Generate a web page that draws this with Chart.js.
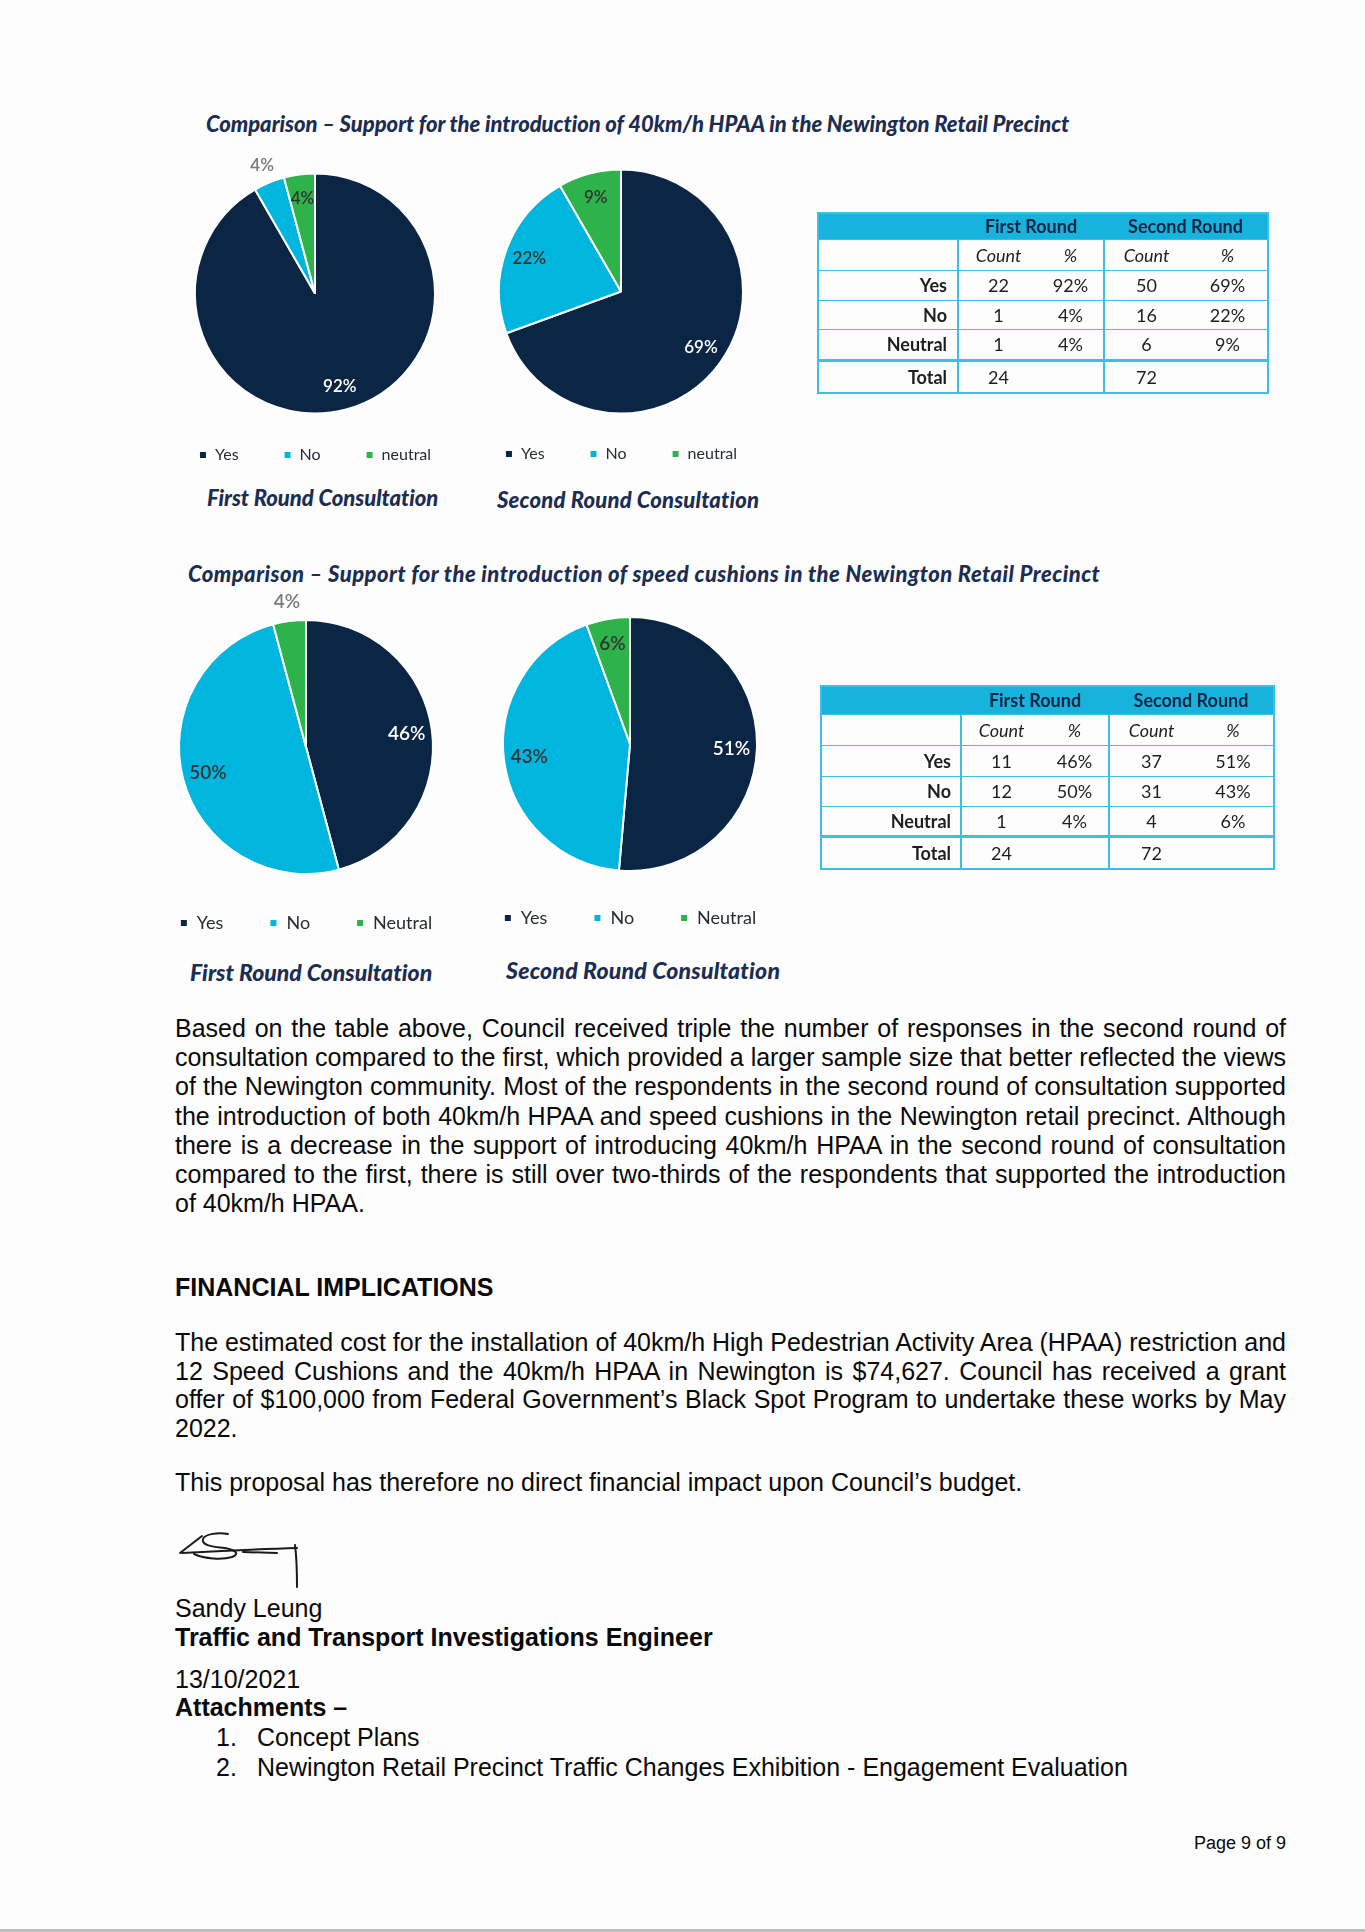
<!DOCTYPE html>
<html>
<head>
<meta charset="utf-8">
<script src="https://cdn.jsdelivr.net/npm/chart.js@4.4.0/dist/chart.umd.min.js"></script>
<style>
html, body { margin: 0; padding: 0; background: #fdfdfd; }
#page { position: relative; width: 1365px; height: 1932px; overflow: hidden; }
.t { position: absolute; white-space: nowrap; display: inline-block; }
.ttl { font-family: Lato, sans-serif; font-weight: 900; font-style: italic; color: #1c2d52; line-height: 26px; }
.body { font-family: 'Liberation Sans', Arial, sans-serif; font-size: 25px; color: #0a0a0a; line-height: 30px; }
.bold { font-weight: 700; }
canvas { position: absolute; }
.tbl { position: absolute; border-collapse: collapse; table-layout: fixed; font-family: Lato, sans-serif; color: #1e1e1e; border: 2px solid #3dc0e6; }
.tbl td { padding: 0; text-align: center; border-top: 1.5px solid #3dc0e6; white-space: nowrap; }
.tbl td.lbl { text-align: right; font-weight: 700; }
.tbl td.gl { border-left: 2px solid #3dc0e6; }
.tbl tr.head td { background: #17b3dd; color: #0f2444; font-weight: 700; border-top: none; }
.tbl tr.sub td { font-style: italic; }
.tbl tr.tot td { border-top: 3.5px solid #3dc0e6; }
#bottomline { position: absolute; left: 0; top: 1929px; width: 1365px; height: 3px; background: #bdbdbd; }
</style>
</head>
<body>
<div id="page">
  <div class="t ttl" style="left:206px; top:111px; font-size:22px;" data-w="863">Comparison – Support for the introduction of 40km/h HPAA in the Newington Retail Precinct</div>
  <div class="t ttl" style="left:207px; top:485px; font-size:22px;" data-w="231">First Round Consultation</div>
  <div class="t ttl" style="left:497px; top:487px; font-size:22px;" data-w="262">Second Round Consultation</div>

  <div class="t ttl" style="left:188px; top:561px; font-size:22px;" data-w="912">Comparison – Support for the introduction of speed cushions in the Newington Retail Precinct</div>
  <div class="t ttl" style="left:190px; top:959px; font-size:23px;" data-w="242">First Round Consultation</div>
  <div class="t ttl" style="left:506px; top:957px; font-size:23px;" data-w="274">Second Round Consultation</div>

  <canvas id="pieHpaa1" width="400" height="328" style="left:115px; top:145px;"></canvas>
  <canvas id="pieHpaa2" width="400" height="330" style="left:421px; top:142px;"></canvas>
  <canvas id="pieCush1" width="400" height="356" style="left:106px; top:586px;"></canvas>
  <canvas id="pieCush2" width="400" height="352" style="left:430px; top:585px;"></canvas>

  <table class="tbl" id="tblHpaa" style="left:817px; top:212px;"></table>
  <table class="tbl" id="tblCush" style="left:820px; top:685px;"></table>

  <div id="text"></div>

  <svg style="position:absolute; left:0; top:0;" width="1365" height="1932">
    <g fill="none" stroke="#1a1a1a" stroke-width="2" stroke-linecap="round" stroke-linejoin="round">
      <path d="M180 1553 L202 1536"/>
      <path d="M228 1534 C218 1532 205 1534 203 1539 C201 1545 212 1547 225 1548 C236 1550 240 1554 232 1557 C222 1560 205 1559 194 1554"/>
      <path d="M182 1553 C220 1551 260 1549 297 1548"/>
      <path d="M243 1552 L277 1553"/>
      <path d="M295 1545 C297 1560 297 1575 297 1587"/>
    </g>
  </svg>
  <div id="bottomline"></div>
</div>

<script>
// valores
const answerLabels1 = ['Yes', 'No', 'neutral'];
const answerLabels2 = ['Yes', 'No', 'Neutral'];
const tableRowLabels = ['Yes', 'No', 'Neutral'];

const hpaaFirstCounts = [22, 1, 1];
const hpaaFirstPct = ['92%', '4%', '4%'];
const hpaaSecondCounts = [50, 16, 6];
const hpaaSecondPct = ['69%', '22%', '9%'];
const hpaaTotals = [24, 72];

const cushFirstCounts = [11, 12, 1];
const cushFirstPct = ['46%', '50%', '4%'];
const cushSecondCounts = [37, 31, 4];
const cushSecondPct = ['51%', '43%', '6%'];
const cushTotals = [24, 72];

const pieColors = ['#0b2545', '#00b6de', '#2db34a'];

// rótulos de percentagem sobre as fatias
const pctLabels = {
    id: 'pctLabels',
    afterDatasetsDraw(chart, args, opts) {
        const ctx = chart.ctx;
        const arcs = chart.getDatasetMeta(0).data;
        ctx.save();
        ctx.font = '600 ' + opts.size + 'px Lato';
        ctx.textAlign = 'center';
        ctx.textBaseline = 'middle';
        arcs.forEach(function(arc, i) {
            const p = arc.getProps(['x', 'y', 'startAngle', 'endAngle', 'outerRadius'], true);
            const mid = (p.startAngle + p.endAngle) / 2;
            const fora = opts.outside.includes(i);
            const r = p.outerRadius * (fora ? 1.15 : 0.8);
            ctx.fillStyle = fora ? '#7a7a7a' : (i === 0 ? '#ffffff' : '#333333');
            ctx.fillText(opts.texts[i], p.x + Math.cos(mid) * r, p.y + Math.sin(mid) * r);
        });
        ctx.restore();
    }
};

function criarPizza(id, labels, counts, pcts, raio, fonte, espaco, fora) {
    new Chart(document.getElementById(id), {
        type: 'pie',
        data: {
            labels: labels,
            datasets: [{
                data: counts,
                backgroundColor: pieColors,
                borderColor: '#ffffff',
                borderWidth: 2,
                clip: false
            }]
        },
        options: {
            responsive: false,
            animation: false,
            radius: raio,
            layout: { padding: { top: 40 } },
            plugins: {
                legend: {
                    position: 'bottom',
                    labels: {
                        boxWidth: 8,
                        boxHeight: 8,
                        padding: espaco,
                        color: '#262c36',
                        font: { family: 'Lato', size: fonte }
                    }
                },
                tooltip: { enabled: false },
                pctLabels: { texts: pcts, outside: fora, size: fonte + 1 }
            }
        },
        plugins: [pctLabels]
    });
}

function criarTabela(id, cols, rows, c1, p1, c2, p2, totals, fonte, padR) {
    const t = document.getElementById(id);
    t.style.fontSize = fonte + 'px';
    let html = '<colgroup>' + cols.map(w => '<col style="width:' + w + 'px">').join('') + '</colgroup>';
    html += '<tr class="head" style="height:' + rows[0] + 'px"><td></td><td colspan="2">First Round</td><td colspan="2">Second Round</td></tr>';
    html += '<tr class="sub" style="height:' + rows[1] + 'px"><td></td><td class="gl">Count</td><td>%</td><td class="gl">Count</td><td>%</td></tr>';
    tableRowLabels.forEach(function(lab, i) {
        html += '<tr style="height:' + rows[i + 2] + 'px"><td class="lbl" style="padding-right:' + padR + 'px">' + lab + '</td>' +
            '<td class="gl">' + c1[i] + '</td><td>' + p1[i] + '</td>' +
            '<td class="gl">' + c2[i] + '</td><td>' + p2[i] + '</td></tr>';
    });
    html += '<tr class="tot" style="height:' + rows[5] + 'px"><td class="lbl" style="padding-right:' + padR + 'px">Total</td>' +
        '<td class="gl">' + totals[0] + '</td><td></td><td class="gl">' + totals[1] + '</td><td></td></tr>';
    t.innerHTML = html;
}

criarPizza('pieHpaa1', answerLabels1, hpaaFirstCounts, hpaaFirstPct, 120, 16, 45, [1]);
criarPizza('pieHpaa2', answerLabels1, hpaaSecondCounts, hpaaSecondPct, 122, 16, 45, []);
criarPizza('pieCush1', answerLabels2, cushFirstCounts, cushFirstPct, 127, 18, 46, [2]);
criarPizza('pieCush2', answerLabels2, cushSecondCounts, cushSecondPct, 127, 18, 46, []);

criarTabela('tblHpaa', [140, 80, 66, 84, 80], [26, 31, 30, 29, 31, 33], hpaaFirstCounts, hpaaFirstPct, hpaaSecondCounts, hpaaSecondPct, hpaaTotals, 18, 10);
criarTabela('tblCush', [140, 80, 68, 84, 81], [28, 31, 31, 30, 30, 33], cushFirstCounts, cushFirstPct, cushSecondCounts, cushSecondPct, cushTotals, 18, 9);

// texto do relatório
const para1 = [
    'Based on the table above, Council received triple the number of responses in the second round of',
    'consultation compared to the first, which provided a larger sample size that better reflected the views',
    'of the Newington community. Most of the respondents in the second round of consultation supported',
    'the introduction of both 40km/h HPAA and speed cushions in the Newington retail precinct. Although',
    'there is a decrease in the support of introducing 40km/h HPAA in the second round of consultation',
    'compared to the first, there is still over two-thirds of the respondents that supported the introduction',
    'of 40km/h HPAA.'
];
const para2 = [
    'The estimated cost for the installation of 40km/h High Pedestrian Activity Area (HPAA) restriction and',
    '12 Speed Cushions and the 40km/h HPAA in Newington is $74,627. Council has received a grant',
    'offer of $100,000 from Federal Government’s Black Spot Program to undertake these works by May',
    '2022.'
];

const box = document.getElementById('text');
function linha(txt, left, cy, extra, w) {
    const d = document.createElement('div');
    d.className = 't body' + (extra ? ' ' + extra : '');
    d.style.left = left + 'px';
    d.style.top = (cy - 15) + 'px';
    d.textContent = txt;
    if (w) d.dataset.just = w;
    box.appendChild(d);
    return d;
}
para1.forEach((s, i) => linha(s, 175, 1028 + i * 29.2, '', i < para1.length - 1 ? 1111 : 0));
linha('FINANCIAL IMPLICATIONS', 175, 1287, 'bold');
para2.forEach((s, i) => linha(s, 175, 1342 + i * 28.7, '', i < para2.length - 1 ? 1111 : 0));
linha('This proposal has therefore no direct financial impact upon Council’s budget.', 175, 1482);
linha('Sandy Leung', 175, 1608);
linha('Traffic and Transport Investigations Engineer', 175, 1637, 'bold');
linha('13/10/2021', 175, 1679);
linha('Attachments –', 175, 1707, 'bold');
linha('1.', 216, 1737);
linha('Concept Plans', 257, 1737);
linha('2.', 216, 1767);
linha('Newington Retail Precinct Traffic Changes Exhibition - Engagement Evaluation', 257, 1767);
const pg = linha('Page 9 of 9', 0, 1843);
pg.style.fontSize = '18px';

function ajustar() {
    document.querySelectorAll('[data-just]').forEach(function(el) {
        const alvo = parseFloat(el.dataset.just);
        const w = el.getBoundingClientRect().width;
        const espacos = (el.textContent.match(/ /g) || []).length;
        const diff = alvo - w;
        if (diff >= 0) {
            el.style.wordSpacing = (diff / espacos) + 'px';
        } else {
            el.style.letterSpacing = (diff / el.textContent.length) + 'px';
        }
    });
    document.querySelectorAll('[data-w]').forEach(function(el) {
        const alvo = parseFloat(el.dataset.w);
        const w = el.getBoundingClientRect().width;
        el.style.letterSpacing = ((alvo - w) / el.textContent.length) + 'px';
    });
    pg.style.left = (1286 - pg.getBoundingClientRect().width) + 'px';
}
ajustar();
</script>
</body>
</html>
